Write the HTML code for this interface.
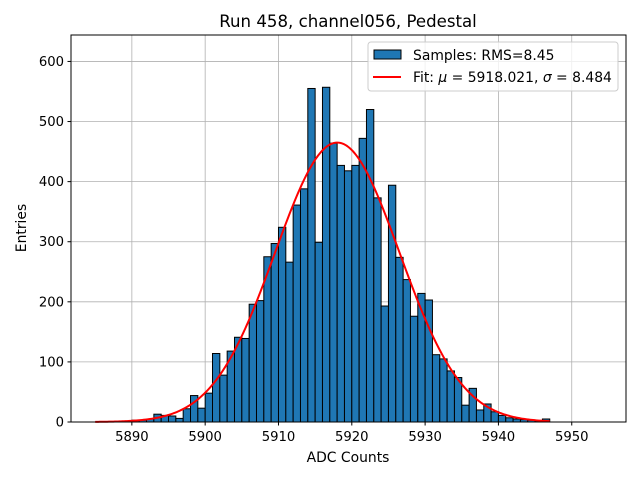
<!DOCTYPE html>
<html><head><meta charset="utf-8"><style>
body{margin:0;background:#fff}
svg text{font-family:"DejaVu Sans","Liberation Sans",sans-serif;fill:#000}
</style></head><body>
<svg id="c" width="640" height="480" xmlns="http://www.w3.org/2000/svg">
<rect width="640" height="480" fill="#fff"/>
<text x="348" y="27" font-size="16.6" text-anchor="middle">Run 458, channel056, Pedestal</text>
<g id="grid"></g>
<g id="bars"></g>
<path id="fit" fill="none" stroke="#ff0000" stroke-width="2"/>
<rect x="71" y="35" width="555" height="387" fill="none" stroke="#000" stroke-width="1"/>
<g id="ticks"></g>
<text x="348" y="462" font-size="13.9" text-anchor="middle">ADC Counts</text>
<text transform="translate(26,228) rotate(-90)" font-size="13.9" text-anchor="middle">Entries</text>
<g>
<rect x="368" y="42" width="250" height="49" rx="3" fill="#fff" fill-opacity="0.8" stroke="#ccc"/>
<rect x="374" y="50" width="27" height="9" fill="#1f77b4" stroke="#000"/>
<text x="413" y="60" font-size="13.9">Samples: RMS=8.45</text>
<line x1="373" y1="77" x2="401" y2="77" stroke="#ff0000" stroke-width="2"/>
<text x="413" y="82" font-size="13.9">Fit: <tspan font-style="italic">μ</tspan> = 5918.021, <tspan font-style="italic">σ</tspan> = 8.484</text>
</g>
</svg>
<script>
const binStart = 5890;
const counts = [3,3,5,13,11,10,6,22,44,23,48,114,78,118,141,139,196,202,275,297,324,266,361,388,555,299,557,464,427,418,427,472,520,373,193,394,274,237,176,214,203,112,105,85,74,28,56,20,30,17,11,7,5,4,3,2,5];
const xTicks = [5890,5900,5910,5920,5930,5940,5950];
const yTicks = [0,100,200,300,400,500,600];
const fitMu = 5918.021, fitSigma = 8.484, fitAmp = 465;
const fitRange = [5885,5947];
const X0=71,X1=626,Y0=422,Y1=35;
const xMin=5881.7,xMax=5957.4,yMin=0,yMax=644;
const sx=v=>X0+(v-xMin)/(xMax-xMin)*(X1-X0);
const sy=v=>Y0-(v-yMin)/(yMax-yMin)*(Y0-Y1);
const NS='http://www.w3.org/2000/svg';
function mk(t,a,p){const e=document.createElementNS(NS,t);for(const k in a)e.setAttribute(k,a[k]);p.appendChild(e);return e;}
const grid=document.getElementById('grid'),bars=document.getElementById('bars'),ticks=document.getElementById('ticks');
xTicks.forEach(v=>{const x=sx(v);
 const g=mk('line',{x1:x,x2:x,y1:Y1,y2:Y0,stroke:'#b0b0b0','stroke-width':0.8},grid);
 
 
 const t=mk('line',{x1:x,x2:x,y1:Y0,y2:Y0+3.5,stroke:'#000'},ticks);
 
 
 const l=mk('text',{x:x,y:Y0+19,'font-size':13.2,'text-anchor':'middle'},ticks);l.textContent=v;
 
 
});
yTicks.forEach(v=>{const y=sy(v);
 const g=mk('line',{x1:X0,x2:X1,y1:y,y2:y,stroke:'#b0b0b0','stroke-width':0.8},grid);
 
 
 const t=mk('line',{x1:X0-3.5,x2:X0,y1:y,y2:y,stroke:'#000'},ticks);
 
 
 const l=mk('text',{x:X0-7,y:y+4.5,'font-size':13.2,'text-anchor':'end'},ticks);l.textContent=v;
 
 
});
counts.forEach((c,i)=>{const a=sx(binStart+i),b=sx(binStart+i+1);
 const r=mk('rect',{x:a,y:sy(c),width:b-a,height:sy(0)-sy(c),fill:'#1f77b4',stroke:'#000','stroke-width':1},bars);
 
 
});
let d='';for(let k=0;k<=300;k++){const v=fitRange[0]+(fitRange[1]-fitRange[0])*k/300;
 const y=fitAmp*Math.exp(-0.5*((v-fitMu)/fitSigma)**2);d+=(k?'L':'M')+sx(v).toFixed(2)+','+sy(y).toFixed(2);}
document.getElementById('fit').setAttribute('d',d);
</script>
</body></html>
